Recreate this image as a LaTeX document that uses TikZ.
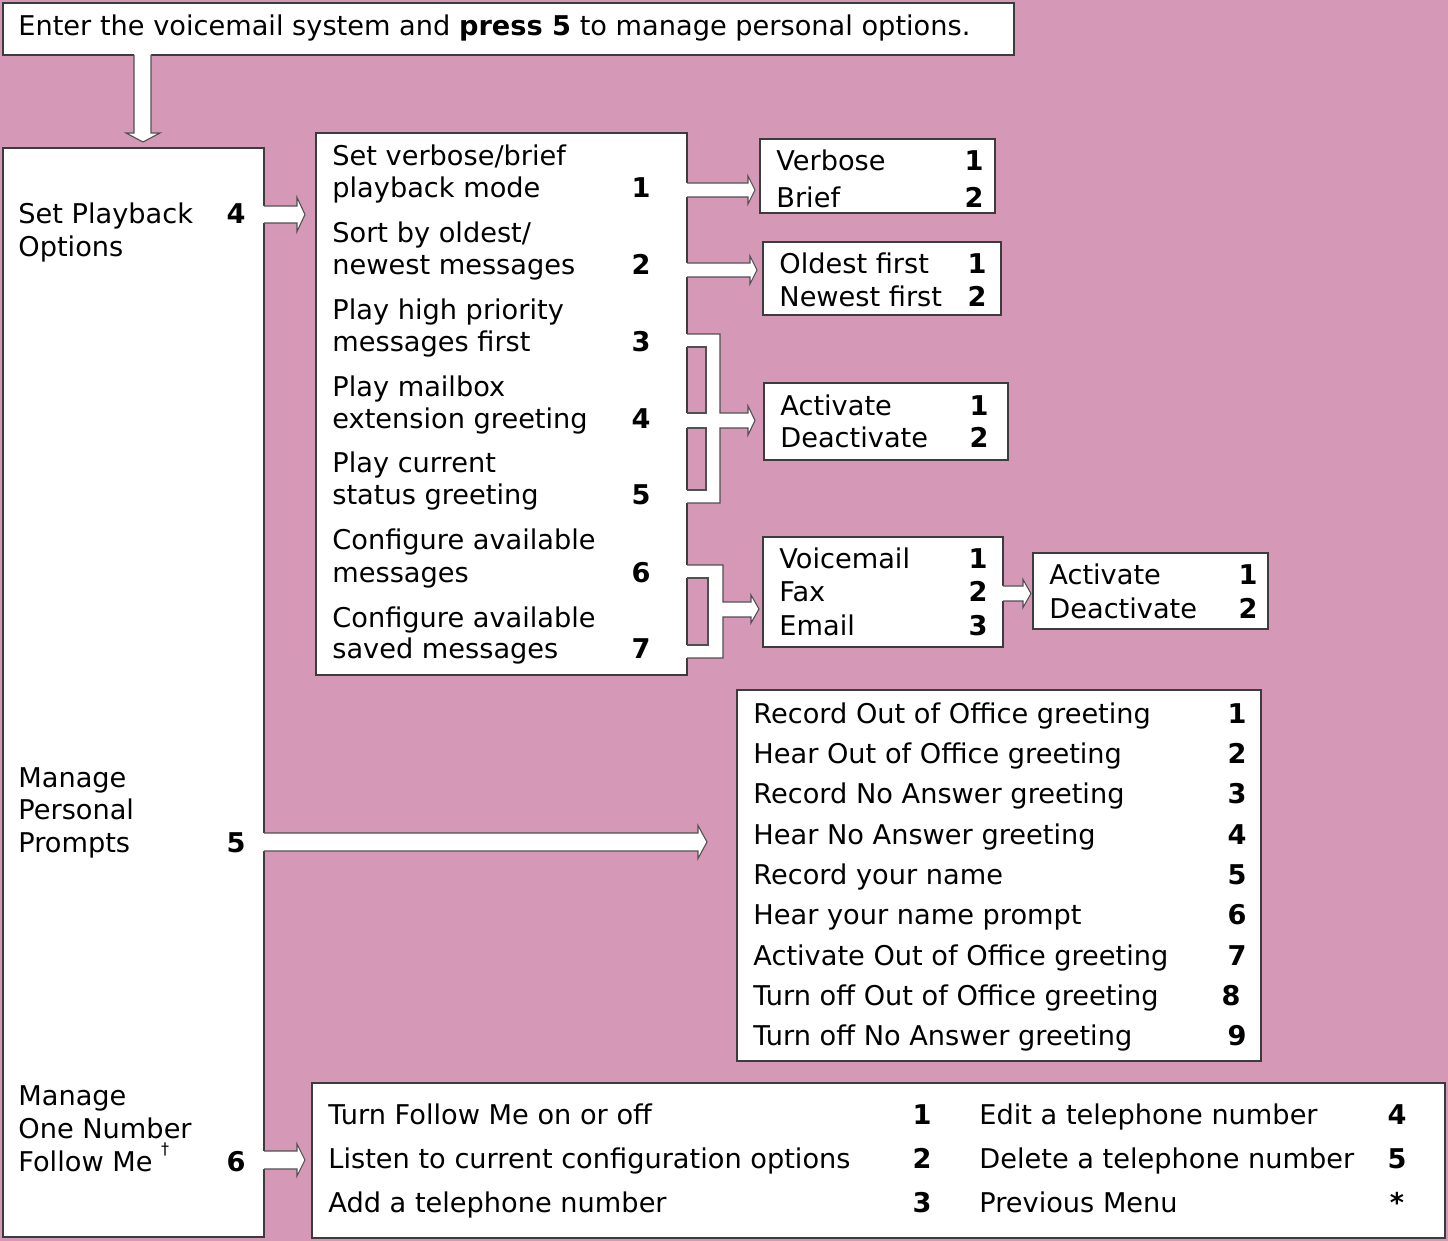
\documentclass[tikz,border=0pt]{standalone}
\usepackage{fontspec}
\setmainfont{DejaVu Sans}
\definecolor{bgpink}{RGB}{214,152,183}
\definecolor{boxline}{RGB}{60,60,60}
\definecolor{arrline}{RGB}{80,80,80}
\newcommand\mainsize{\fontsize{13.6}{16}\selectfont}
\tikzset{
  boxst/.style={draw=boxline, line width=0.65pt, fill=white},
  arrowline/.style={draw=arrline, line width=0.55pt, line join=miter},
  txt/.style={anchor=base west, inner sep=0pt, font=\mainsize},
  num/.style={anchor=base, inner sep=0pt, font=\mainsize\bfseries},
}
% right-pointing block arrow: tail x, head base x, tip x, centre y, shaft half, head half
\newcommand\blockarrowR[6]{%
  \fill[white] (#1-3,#4-#5) -- (#2,#4-#5) -- (#2,#4-#6) -- (#3,#4) -- (#2,#4+#6) -- (#2,#4+#5) -- (#1-3,#4+#5) -- cycle;
  \draw[arrowline] (#1,#4-#5) -- (#2,#4-#5) -- (#2,#4-#6) -- (#3,#4) -- (#2,#4+#6) -- (#2,#4+#5) -- (#1,#4+#5);
}
\begin{document}
\begin{tikzpicture}[x=0.5pt,y=-0.5pt]
\useasboundingbox (0,0) rectangle (1448,1241);
\fill[bgpink] (0,0) rectangle (1448,1241);

% boxes
\draw[boxst] (3,3) rectangle (1014,55);
\draw[boxst] (3,148) rectangle (264,1237);
\draw[boxst] (316,133) rectangle (687,675);
\draw[boxst] (760,139) rectangle (995,213);
\draw[boxst] (763,242) rectangle (1001,315);
\draw[boxst] (764,383) rectangle (1008,460);
\draw[boxst] (763,537) rectangle (1003,647);
\draw[boxst] (1033,553) rectangle (1268,629);
\draw[boxst] (737,690) rectangle (1261,1061);
\draw[boxst] (312,1083) rectangle (1445,1238);

% down arrow
\fill[white] (134,52) -- (134,133) -- (126,133) -- (143,142) -- (160,133) -- (151,133) -- (151,52) -- cycle;
\draw[arrowline] (134,55) -- (134,133) -- (126,133) -- (143,142) -- (160,133) -- (151,133) -- (151,55);

% arrows from the left box
\blockarrowR{264}{297}{305}{214.5}{8.5}{17}
\blockarrowR{264}{698}{707}{842}{9}{16.5}
\blockarrowR{264}{297}{305}{1160}{9}{16}

% arrows from the second box
\blockarrowR{687}{748}{755}{190}{7}{14}
\blockarrowR{687}{750}{757}{270}{7}{14}
\blockarrowR{1003}{1023}{1031}{593.5}{7.5}{14}

% bracket for items 3,4,5
\fill[white] (684,334) rectangle (720,347);
\fill[white] (706,334) rectangle (720,503);
\fill[white] (684,413) rectangle (720,428);
\fill[white] (684,490) rectangle (720,503);
\fill[white] (719,413) -- (748,413) -- (748,406) -- (755,420.5) -- (748,435) -- (748,428) -- (719,428) -- cycle;
\draw[arrowline] (687,334) -- (720,334) -- (720,413) -- (748,413) -- (748,406) -- (755,420.5) -- (748,435) -- (748,428) -- (720,428) -- (720,503) -- (687,503);
\draw[arrowline] (687,347) -- (706,347) -- (706,413) -- (687,413);
\draw[arrowline] (687,428) -- (706,428) -- (706,490) -- (687,490);

% bracket for items 6,7
\fill[white] (684,565) rectangle (723,578);
\fill[white] (708,565) rectangle (723,658);
\fill[white] (684,645) rectangle (723,658);
\fill[white] (722,602) -- (751,602) -- (751,595) -- (759,609) -- (751,623) -- (751,617) -- (722,617) -- cycle;
\draw[arrowline] (687,565) -- (723,565) -- (723,602) -- (751,602) -- (751,595) -- (759,609) -- (751,623) -- (751,617) -- (723,617) -- (723,658) -- (687,658);
\draw[arrowline] (687,578) -- (708,578) -- (708,645) -- (687,645);

% top text
\node[txt] (intro) at (18,36) {Enter the voicemail system and \textbf{press 5} to manage personal options.};

% left box
\node[txt] (l1a) at (18,224) {Set Playback};
\node[txt] (l1b) at (18,257) {Options};
\node[num] (l1n) at (236,224) {4};
\node[txt] (l2a) at (18,787) {Manage};
\node[txt] (l2b) at (18,819) {Personal};
\node[txt] (l2c) at (18,852) {Prompts};
\node[num] (l2n) at (236,852) {5};
\node[txt] (l3a) at (18,1105) {Manage};
\node[txt] (l3b) at (18,1138) {One Number};
\node[txt] (l3c) at (18,1171) {Follow Me\ \raisebox{1.1ex}{\fontsize{8}{8}\selectfont †}};
\node[num] (l3n) at (236,1171) {6};

% second box
\node[txt] (p1a) at (332,166) {Set verbose/brief};
\node[txt] (p1b) at (332,198) {playback mode};
\node[num] (p1n) at (641,198) {1};
\node[txt] (p2a) at (332,243) {Sort by oldest/};
\node[txt] (p2b) at (332,275) {newest messages};
\node[num] (p2n) at (641,275) {2};
\node[txt] (p3a) at (332,320) {Play high priority};
\node[txt] (p3b) at (332,352) {messages first};
\node[num] (p3n) at (641,352) {3};
\node[txt] (p4a) at (332,397) {Play mailbox};
\node[txt] (p4b) at (332,429) {extension greeting};
\node[num] (p4n) at (641,429) {4};
\node[txt] (p5a) at (332,473) {Play current};
\node[txt] (p5b) at (332,505) {status greeting};
\node[num] (p5n) at (641,505) {5};
\node[txt] (p6a) at (332,550) {Configure available};
\node[txt] (p6b) at (332,582) {messages};
\node[num] (p6n) at (641,582) {6};
\node[txt] (p7a) at (332,627) {Configure available};
\node[txt] (p7b) at (332,659) {saved messages};
\node[num] (p7n) at (641,659) {7};

% verbose box
\node[txt] (v1) at (776,171) {Verbose};
\node[num] (v1n) at (974,171) {1};
\node[txt] (v2) at (776,208) {Brief};
\node[num] (v2n) at (974,208) {2};

% oldest box
\node[txt] (o1) at (779,274) {Oldest first};
\node[num] (o1n) at (977,274) {1};
\node[txt] (o2) at (779,307) {Newest first};
\node[num] (o2n) at (977,307) {2};

% activate box
\node[txt] (a1) at (780,416) {Activate};
\node[num] (a1n) at (979,416) {1};
\node[txt] (a2) at (780,448) {Deactivate};
\node[num] (a2n) at (979,448) {2};

% voicemail box
\node[txt] (m1) at (779,569) {Voicemail};
\node[num] (m1n) at (978,569) {1};
\node[txt] (m2) at (779,602) {Fax};
\node[num] (m2n) at (978,602) {2};
\node[txt] (m3) at (779,635) {Email};
\node[num] (m3n) at (978,635) {3};

% activate box 2
\node[txt] (b1) at (1049,585) {Activate};
\node[num] (b1n) at (1248,585) {1};
\node[txt] (b2) at (1049,618) {Deactivate};
\node[num] (b2n) at (1248,618) {2};

% record box
\node[txt] (r1) at (753,723) {Record Out of Office greeting};
\node[num] (r1n) at (1237,723) {1};
\node[txt] (r2) at (753,763) {Hear Out of Office greeting};
\node[num] (r2n) at (1237,763) {2};
\node[txt] (r3) at (753,803) {Record No Answer greeting};
\node[num] (r3n) at (1237,803) {3};
\node[txt] (r4) at (753,844) {Hear No Answer greeting};
\node[num] (r4n) at (1237,844) {4};
\node[txt] (r5) at (753,884) {Record your name};
\node[num] (r5n) at (1237,884) {5};
\node[txt] (r6) at (753,924) {Hear your name prompt};
\node[num] (r6n) at (1237,924) {6};
\node[txt] (r7) at (753,965) {Activate Out of Office greeting};
\node[num] (r7n) at (1237,965) {7};
\node[txt] (r8) at (753,1005) {Turn off Out of Office greeting};
\node[num] (r8n) at (1231,1005) {8};
\node[txt] (r9) at (753,1045) {Turn off No Answer greeting};
\node[num] (r9n) at (1237,1045) {9};

% follow me box
\node[txt] (f1) at (328,1124) {Turn Follow Me on or off};
\node[num] (f1n) at (922,1124) {1};
\node[txt] (f2) at (328,1168) {Listen to current configuration options};
\node[num] (f2n) at (922,1168) {2};
\node[txt] (f3) at (328,1212) {Add a telephone number};
\node[num] (f3n) at (922,1212) {3};
\node[txt] (f4) at (979,1124) {Edit a telephone number};
\node[num] (f4n) at (1397,1124) {4};
\node[txt] (f5) at (979,1168) {Delete a telephone number};
\node[num] (f5n) at (1397,1168) {5};
\node[txt] (f6) at (979,1212) {Previous Menu};
\node[num] (f6n) at (1397,1212) {*};
\end{tikzpicture}
\end{document}
